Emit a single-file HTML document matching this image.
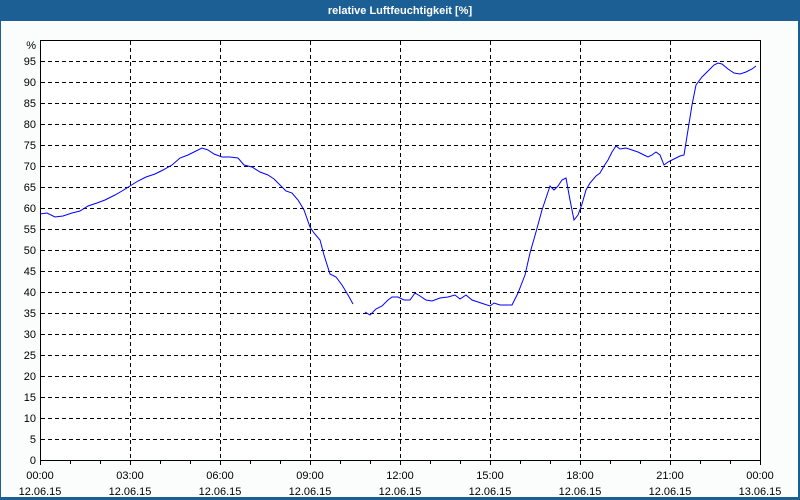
<!DOCTYPE html>
<html><head><meta charset="utf-8"><style>
html,body{margin:0;padding:0;background:#fff}
svg{display:block}
text{font-family:"Liberation Sans",sans-serif;font-size:11px;fill:#000}
</style></head><body>
<svg width="800" height="500" xmlns="http://www.w3.org/2000/svg">
<rect x="0" y="0" width="800" height="500" fill="#1c5f94"/>
<rect x="1" y="21" width="797" height="476" fill="#fbfdfd"/>
<text x="400" y="14" text-anchor="middle" style="fill:#fff;font-weight:bold;font-size:11px">relative Luftfeuchtigkeit [%]</text>
<rect x="40.5" y="40.5" width="720" height="420" fill="#fff"/>
<g stroke="#000" stroke-dasharray="4,3" stroke-width="1">
<path d="M41 439.5H760M41 418.5H760M41 397.5H760M41 376.5H760M41 355.5H760M41 334.5H760M41 313.5H760M41 292.5H760M41 271.5H760M41 250.5H760M41 229.5H760M41 208.5H760M41 187.5H760M41 166.5H760M41 145.5H760M41 124.5H760M41 103.5H760M41 82.5H760M41 61.5H760"/>
<path d="M130.5 41V460M220.5 41V460M310.5 41V460M400.5 41V460M490.5 41V460M580.5 41V460M670.5 41V460"/>
</g>
<rect x="40.5" y="40.5" width="720" height="420" fill="none" stroke="#000"/>
<g stroke="#000"><path d="M40.5 460V465M70.5 460V464M100.5 460V464M130.5 460V465M160.5 460V464M190.5 460V464M220.5 460V465M250.5 460V464M280.5 460V464M310.5 460V465M340.5 460V464M370.5 460V464M400.5 460V465M430.5 460V464M460.5 460V464M490.5 460V465M520.5 460V464M550.5 460V464M580.5 460V465M610.5 460V464M640.5 460V464M670.5 460V465M700.5 460V464M730.5 460V464M760.5 460V465"/></g>
<g text-anchor="end">
<text x="36" y="49">%</text>
<text x="36" y="65">95</text><text x="36" y="86">90</text><text x="36" y="107">85</text><text x="36" y="128">80</text><text x="36" y="149">75</text><text x="36" y="170">70</text><text x="36" y="191">65</text><text x="36" y="212">60</text><text x="36" y="233">55</text><text x="36" y="254">50</text><text x="36" y="275">45</text><text x="36" y="296">40</text><text x="36" y="317">35</text><text x="36" y="338">30</text><text x="36" y="359">25</text><text x="36" y="380">20</text><text x="36" y="401">15</text><text x="36" y="422">10</text><text x="36" y="443">5</text><text x="36" y="464">0</text>
</g>
<g text-anchor="middle">
<text x="40" y="479">00:00</text><text x="40" y="495">12.06.15</text>
<text x="130" y="479">03:00</text><text x="130" y="495">12.06.15</text>
<text x="220" y="479">06:00</text><text x="220" y="495">12.06.15</text>
<text x="310" y="479">09:00</text><text x="310" y="495">12.06.15</text>
<text x="400" y="479">12:00</text><text x="400" y="495">12.06.15</text>
<text x="490" y="479">15:00</text><text x="490" y="495">12.06.15</text>
<text x="580" y="479">18:00</text><text x="580" y="495">12.06.15</text>
<text x="670" y="479">21:00</text><text x="670" y="495">12.06.15</text>
<text x="760" y="479">00:00</text><text x="760" y="495">13.06.15</text>
</g>
<g fill="none" stroke="#0000ff" stroke-width="1">
<polyline points="40,214 47,213 55,217 63,216 72,213 80,211 88,206 97,203 105,200 115,195 122,191 130,186 138,181 146,177 155,174 163,170 172,165 180,158 188,155 196,151 202,148 208,150 214,154 222,157 230,157 238,158 244,165 252,167 260,172 268,175 274,179 280,185 286,191 292,193 298,200 304,210 310,227 314,233 320,240 324,255 330,274 336,277 342,285 348,295 353,304"/>
<polyline points="365,312 370,315 376,309 382,306 388,300 392,297 398,297 404,300 410,300 415,293 420,296 426,300 432,301 440,298 448,297 455,295 460,299 466,295 472,300 478,302 484,304 490,306 494,303 500,305 508,305 512,305 518,293 525,275 530,253 536,232 542,210 546,198 550,186 554,190 558,186 562,180 566,178 570,200 574,220 578,215 582,204 586,190 590,183 596,176 600,173 604,166 608,160 612,152 616,146 620,149 626,148 632,150 638,152 644,155 648,157 652,155 656,152 660,155 664,165 668,162 674,159 680,156 684,155 688,130 692,105 696,85 702,77 708,71 714,65 718,63 722,64 728,69 734,73 740,74 746,72 752,69 756,66"/>
</g>
</svg>
</body></html>
